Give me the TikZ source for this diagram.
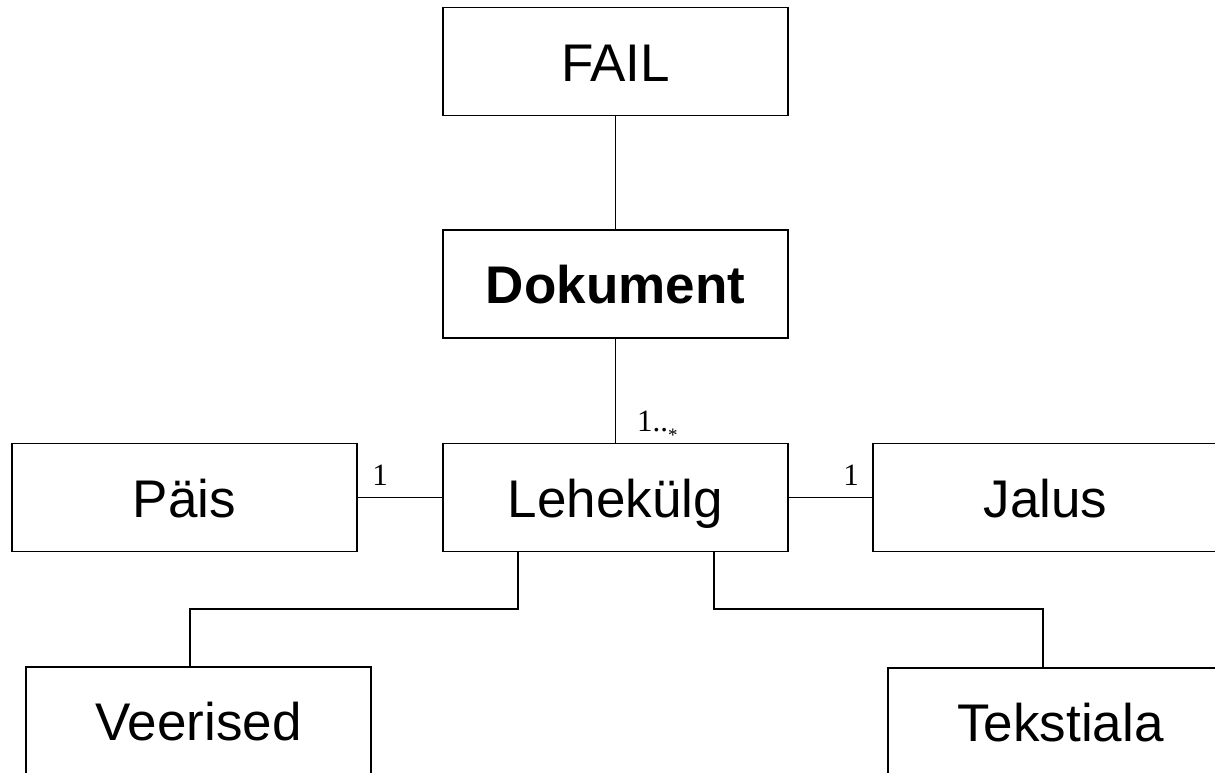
\documentclass[tikz,border=0pt]{standalone}
\usepackage{fontspec}
\setmainfont{Liberation Sans}
\newfontfamily\serifl{Liberation Serif}
\begin{document}
\begin{tikzpicture}[x=1pt,y=-1pt,
  box/.style={draw,line width=1.4pt,minimum width=345pt,minimum height=108pt,inner sep=0pt,text height=39pt,text depth=0pt,font=\fontsize{53}{60}\selectfont},
  conn/.style={line width=1.4pt},
  lbl/.style={inner sep=0pt,anchor=base,font=\serifl\fontsize{31}{34}\selectfont}]
\useasboundingbox (0,0) rectangle (1215,772);
\clip (0,0) rectangle (1215,772);
\node[box] (fail) at (615.5,61.5) {FAIL};
\node[box] (dok) at (615.5,284) {\bfseries Dokument};
\node[box] (leh) at (615.5,497.5) {Lehekülg};
\node[box] (pais) at (184.5,497.5) {Päis};
\node[box] (jalus) at (1045.5,497.5) {Jalus};
\node[box] (veer) at (198.5,721) {Veerised};
\node[box] (teks) at (1060.5,722) {Tekstiala};
\coordinate (v1) at (518,609);
\coordinate (v2) at (190,609);
\coordinate (t1) at (714,609);
\coordinate (t2) at (1043,609);
\draw[conn] (fail.south) -- (dok.north);
\draw[conn] (dok.south) -- (leh.north);
\draw[conn] (pais.east) -- (leh.west);
\draw[conn] (leh.east) -- (jalus.west);
\draw[conn] (leh.south -| v1) -- (v1) -- (v2) -- (v2 |- veer.north);
\draw[conn] (leh.south -| t1) -- (t1) -- (t2) -- (t2 |- teks.north);
\node[lbl] (lp) at (380,485) {1};
\node[lbl] (lj) at (851,485) {1};
\node[lbl,anchor=base west] (ld) at (637,431) {1..\raisebox{-10pt}{\fontsize{19}{19}\selectfont *}};
\end{tikzpicture}
\end{document}
